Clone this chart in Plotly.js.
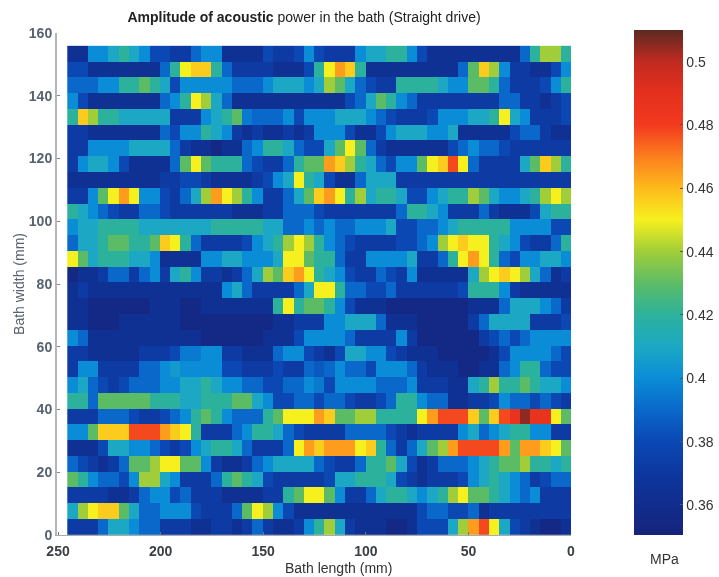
<!DOCTYPE html>
<html><head><meta charset="utf-8">
<script src="https://cdn.plot.ly/plotly-3.0.1.min.js"></script>
<style>html,body{margin:0;padding:0;background:#fff}#c{width:719px;height:577px;filter:blur(0.5px)}</style>
</head><body><div id="c"></div>
<script>
// Amplitude in MPa x 1000; rows listed top (155 mm) to bottom (0 mm), columns left (245 mm) to right (0 mm)
const r00=[364,364,400,400,410,420,410,400,380,380,372,372,390,400,400,364,364,364,364,380,372,372,380,400,380,372,372,372,400,410,410,420,420,400,380,364,364,364,364,364,364,364,364,364,390,420,440,440,420];
const r01=[380,380,364,364,364,364,364,364,364,390,420,450,457,457,420,390,372,372,372,372,364,364,364,380,420,450,465,457,420,364,364,364,364,364,364,364,364,364,390,430,457,440,400,372,372,364,364,380,400];
const r02=[390,390,390,400,400,420,420,430,420,410,380,400,400,400,400,400,390,390,390,400,410,410,410,400,410,440,430,410,390,380,372,372,420,420,420,420,410,400,400,430,430,420,390,372,372,372,380,400,420];
const r03=[400,380,364,364,364,364,364,364,364,390,400,420,450,440,410,390,364,364,364,364,364,364,364,364,364,364,364,380,390,410,430,420,400,390,372,372,372,372,372,372,372,372,390,390,372,372,364,372,380];
const r04=[420,457,440,420,420,410,410,410,410,410,372,372,372,400,410,420,430,395,390,390,390,400,380,400,400,400,410,410,410,400,390,380,372,372,372,380,400,400,400,410,410,420,450,410,400,372,372,372,380];
const r05=[372,372,364,364,364,364,364,364,364,390,380,400,400,420,410,400,372,364,372,364,364,372,364,372,400,400,400,380,364,364,380,400,410,410,410,400,400,410,364,364,364,364,364,380,390,390,372,364,364];
const r06=[372,372,400,400,400,400,410,410,410,410,390,372,364,364,356,364,364,390,400,420,420,410,390,380,380,410,430,450,430,390,372,364,364,364,364,364,364,380,390,400,390,390,380,372,372,372,372,372,372];
const r07=[372,400,410,410,400,380,364,364,364,364,390,430,450,430,420,420,420,390,380,372,372,390,420,430,430,465,457,440,420,410,390,380,400,400,430,450,457,478,450,390,372,372,372,372,410,430,457,440,420];
const r08=[364,364,364,364,364,364,364,364,364,372,372,380,380,372,364,364,364,364,372,380,400,410,450,420,410,380,364,364,390,410,410,410,372,372,372,372,372,372,372,372,372,372,372,372,372,372,372,372,372];
const r09=[372,372,400,430,450,465,450,400,400,380,372,390,410,440,465,450,440,420,400,372,372,390,410,430,457,465,450,420,440,410,420,420,410,380,380,400,410,420,420,440,430,410,400,400,410,420,440,450,440];
const r10=[420,410,400,390,380,372,372,390,390,380,372,372,372,372,372,372,364,364,364,372,372,390,390,390,380,372,372,372,372,372,372,372,390,420,420,410,400,372,372,372,390,372,364,364,364,380,410,420,420];
const r11=[400,410,410,420,420,420,420,410,410,410,410,410,410,410,420,420,420,420,420,410,410,390,390,400,390,400,390,390,400,400,400,410,380,380,390,390,400,410,420,420,420,420,420,400,400,400,400,380,380];
const r12=[390,410,410,420,430,430,420,420,430,457,450,420,390,372,372,372,372,380,400,410,420,440,450,440,420,400,390,380,372,372,372,372,380,380,390,400,440,450,457,450,450,420,410,400,380,372,372,390,420];
const r13=[450,430,410,420,420,420,410,410,400,364,364,364,364,400,400,410,410,400,400,400,410,450,450,430,420,420,390,372,372,400,400,400,400,410,372,372,390,420,450,465,450,420,390,380,400,400,410,410,400];
const r14=[356,364,364,372,390,390,372,390,400,372,410,420,400,372,372,364,372,390,410,440,430,457,465,450,420,410,400,380,372,372,390,380,372,400,364,364,364,364,364,410,440,450,457,450,440,410,390,364,372];
const r15=[364,372,364,364,364,364,364,364,364,364,364,364,364,364,364,400,410,390,372,372,372,372,390,410,450,450,420,390,390,380,380,390,372,372,372,372,372,372,380,420,420,420,400,372,364,364,364,364,364];
const r16=[364,364,356,356,356,356,356,356,364,364,364,356,356,364,364,364,364,364,364,364,420,450,420,430,430,420,400,380,364,364,364,356,356,356,356,356,356,356,356,364,364,364,390,410,410,410,400,390,372];
const r17=[364,364,356,356,356,364,364,364,364,364,364,356,356,356,356,356,356,356,356,356,364,364,372,372,372,400,400,410,410,410,390,364,364,364,356,356,356,356,356,372,390,410,410,410,410,372,372,372,380];
const r18=[400,390,364,364,364,364,364,364,364,364,364,364,364,356,356,356,356,356,356,364,364,364,380,400,400,400,400,390,372,372,372,372,400,372,356,356,356,356,356,356,372,380,390,380,390,400,400,400,400];
const r19=[372,372,364,364,364,364,364,372,372,372,380,395,395,400,400,372,372,364,364,364,390,400,400,380,372,364,380,410,410,400,400,380,372,364,364,364,356,356,356,356,356,364,380,400,400,400,400,390,380];
const r20=[372,400,400,372,372,372,372,390,390,400,405,400,400,400,400,380,380,372,372,372,380,372,372,390,385,390,400,390,390,380,400,400,400,390,372,364,364,364,356,356,364,364,390,400,420,420,390,380,380];
const r21=[400,410,390,380,372,380,390,390,390,400,400,410,410,420,410,400,400,390,390,380,380,390,390,400,395,380,400,400,400,400,390,390,390,400,372,372,372,364,364,410,420,440,420,420,430,420,410,410,400];
const r22=[420,420,390,430,430,430,430,430,420,420,420,410,410,420,420,420,430,430,410,400,380,380,390,390,380,390,390,380,372,372,380,390,420,420,400,390,390,364,364,372,372,380,400,390,390,380,390,380,372];
const r23=[372,372,372,390,390,390,380,372,372,380,390,400,420,430,420,400,390,390,390,420,430,450,450,450,465,457,430,430,440,440,420,420,420,420,450,465,478,478,478,457,430,457,478,487,505,487,487,450,430];
const r24=[400,400,430,457,457,457,478,478,478,465,457,450,420,372,372,372,390,400,420,420,410,390,380,372,372,372,372,390,390,390,390,380,372,364,372,372,372,372,400,410,390,400,410,420,420,400,400,372,372];
const r25=[364,364,364,380,410,410,400,400,390,380,372,380,400,410,420,420,410,390,372,372,372,390,450,465,457,465,465,465,450,457,420,390,372,390,410,430,440,465,478,478,478,478,465,430,465,465,457,450,430];
const r26=[390,380,372,364,372,390,430,430,440,450,450,430,430,400,372,364,364,372,390,400,410,410,410,410,390,380,372,372,390,420,420,430,410,380,364,372,390,390,390,400,410,420,430,430,440,420,420,410,420];
const r27=[430,420,400,390,390,380,400,440,440,410,400,372,372,372,390,420,430,420,410,380,372,372,372,372,372,380,410,410,420,420,420,410,380,372,364,372,372,372,380,400,410,420,410,400,390,372,380,390,390];
const r28=[372,372,372,372,364,364,372,390,400,400,380,390,372,372,372,364,364,364,364,372,372,420,430,450,450,430,400,372,372,390,410,420,420,410,400,410,420,440,450,430,430,420,410,400,390,400,372,372,372];
const r29=[410,440,450,457,457,430,410,390,390,400,400,400,380,372,372,372,390,430,450,440,400,380,364,364,364,364,364,364,364,364,364,364,364,364,380,390,390,380,380,390,364,372,372,372,372,372,372,372,372];
const r30=[372,372,372,390,410,410,400,390,390,372,372,372,364,364,372,372,364,372,390,372,364,364,372,400,420,440,410,372,364,364,364,356,356,364,380,380,380,410,440,465,478,450,410,380,372,364,356,356,364];

const rows=[r00,r01,r02,r03,r04,r05,r06,r07,r08,r09,r10,r11,r12,r13,r14,r15,r16,r17,r18,r19,r20,r21,r22,r23,r24,r25,r26,r27,r28,r29,r30];
const cbTicks=[0.36,0.38,0.40,0.42,0.44,0.46,0.48,0.50];
const cbLabels=["0.36","0.38","0.4","0.42","0.44","0.46","0.48","0.5"];
const xTicks=[250,200,150,100,50,0];
const yTicks=[0,20,40,60,80,100,120,140,160];
const titleText="<b>Amplitude of acoustic</b> power in the bath (Straight drive)";

const z=rows.map(r=>r.map(v=>v/1000));
const x=r00.map((_,i)=>(48-i)*5.01+2.5);
const y=rows.map((_,i)=>(30-i)*5.03+2.5);
const F="Liberation Sans, Arial, sans-serif";
const zmin=0.3505,zmax=0.51;
const cs=[[0,"#15247c"],[0.06,"#112c8c"],[0.125,"#0d38a0"],[0.185,"#0b48b4"],[0.248,"#0a68ca"],[0.31,"#0a8cd6"],[0.373,"#1ca8c4"],[0.436,"#2cb29c"],[0.498,"#5cbc66"],[0.561,"#a0ce3a"],[0.624,"#f6f01e"],[0.687,"#fdba1c"],[0.749,"#fc7e1e"],[0.812,"#f23a1e"],[0.875,"#e4301e"],[0.937,"#c22a20"],[1,"#5a2a22"]];

Plotly.newPlot("c",[{type:"heatmap",x,y,z,zmin,zmax,colorscale:cs,zsmooth:false,
 colorbar:{thicknessmode:"pixels",thickness:49,lenmode:"pixels",len:505,xref:"paper",yref:"paper",x:1.1226,xanchor:"left",xpad:0,y:0,yanchor:"bottom",ypad:0,
  tickvals:cbTicks,ticktext:cbLabels,ticks:"inside",ticklen:3,tickcolor:"#555",outlinewidth:0,tickfont:{family:F,size:14,color:"#333"}}}],
{width:719,height:577,paper_bgcolor:"#fff",plot_bgcolor:"#fff",
 margin:{l:57,r:148,t:33,b:42,pad:0,autoexpand:false},showlegend:false,
 title:{text:titleText,font:{family:F,size:14,color:"#222"},x:304/719,xanchor:"center",y:1-17/577,yanchor:"middle"},
 xaxis:{range:[250.5,0],tickvals:xTicks,ticks:"inside",ticklen:3,tickcolor:"#777",showline:true,linecolor:"#aaa",linewidth:1,zeroline:false,showgrid:false,ticklabelstandoff:3,
  tickfont:{family:F,size:14,color:"#3a3f45",weight:700}},
 yaxis:{range:[0,160],tickvals:yTicks,ticks:"inside",ticklen:3,tickcolor:"#888",showline:true,linecolor:"#b5b5b5",linewidth:2,zeroline:false,showgrid:false,
  tickfont:{family:F,size:14,color:"#566270",weight:700},title:{text:"Bath width (mm)",font:{family:F,size:14,color:"#566270"},standoff:1}},
 annotations:[
  {text:"MPa",xref:"paper",yref:"paper",x:(664-57)/514,y:(577-42-559)/502,showarrow:false,xanchor:"center",yanchor:"middle",font:{family:F,size:14,color:"#333"}},
  {text:"Bath length (mm)",xref:"paper",yref:"paper",x:(338-57)/514,y:(577-42-568)/502,showarrow:false,xanchor:"center",yanchor:"middle",font:{family:F,size:14,color:"#333"}}
 ]
},{displayModeBar:false,staticPlot:true});
</script></body></html>
